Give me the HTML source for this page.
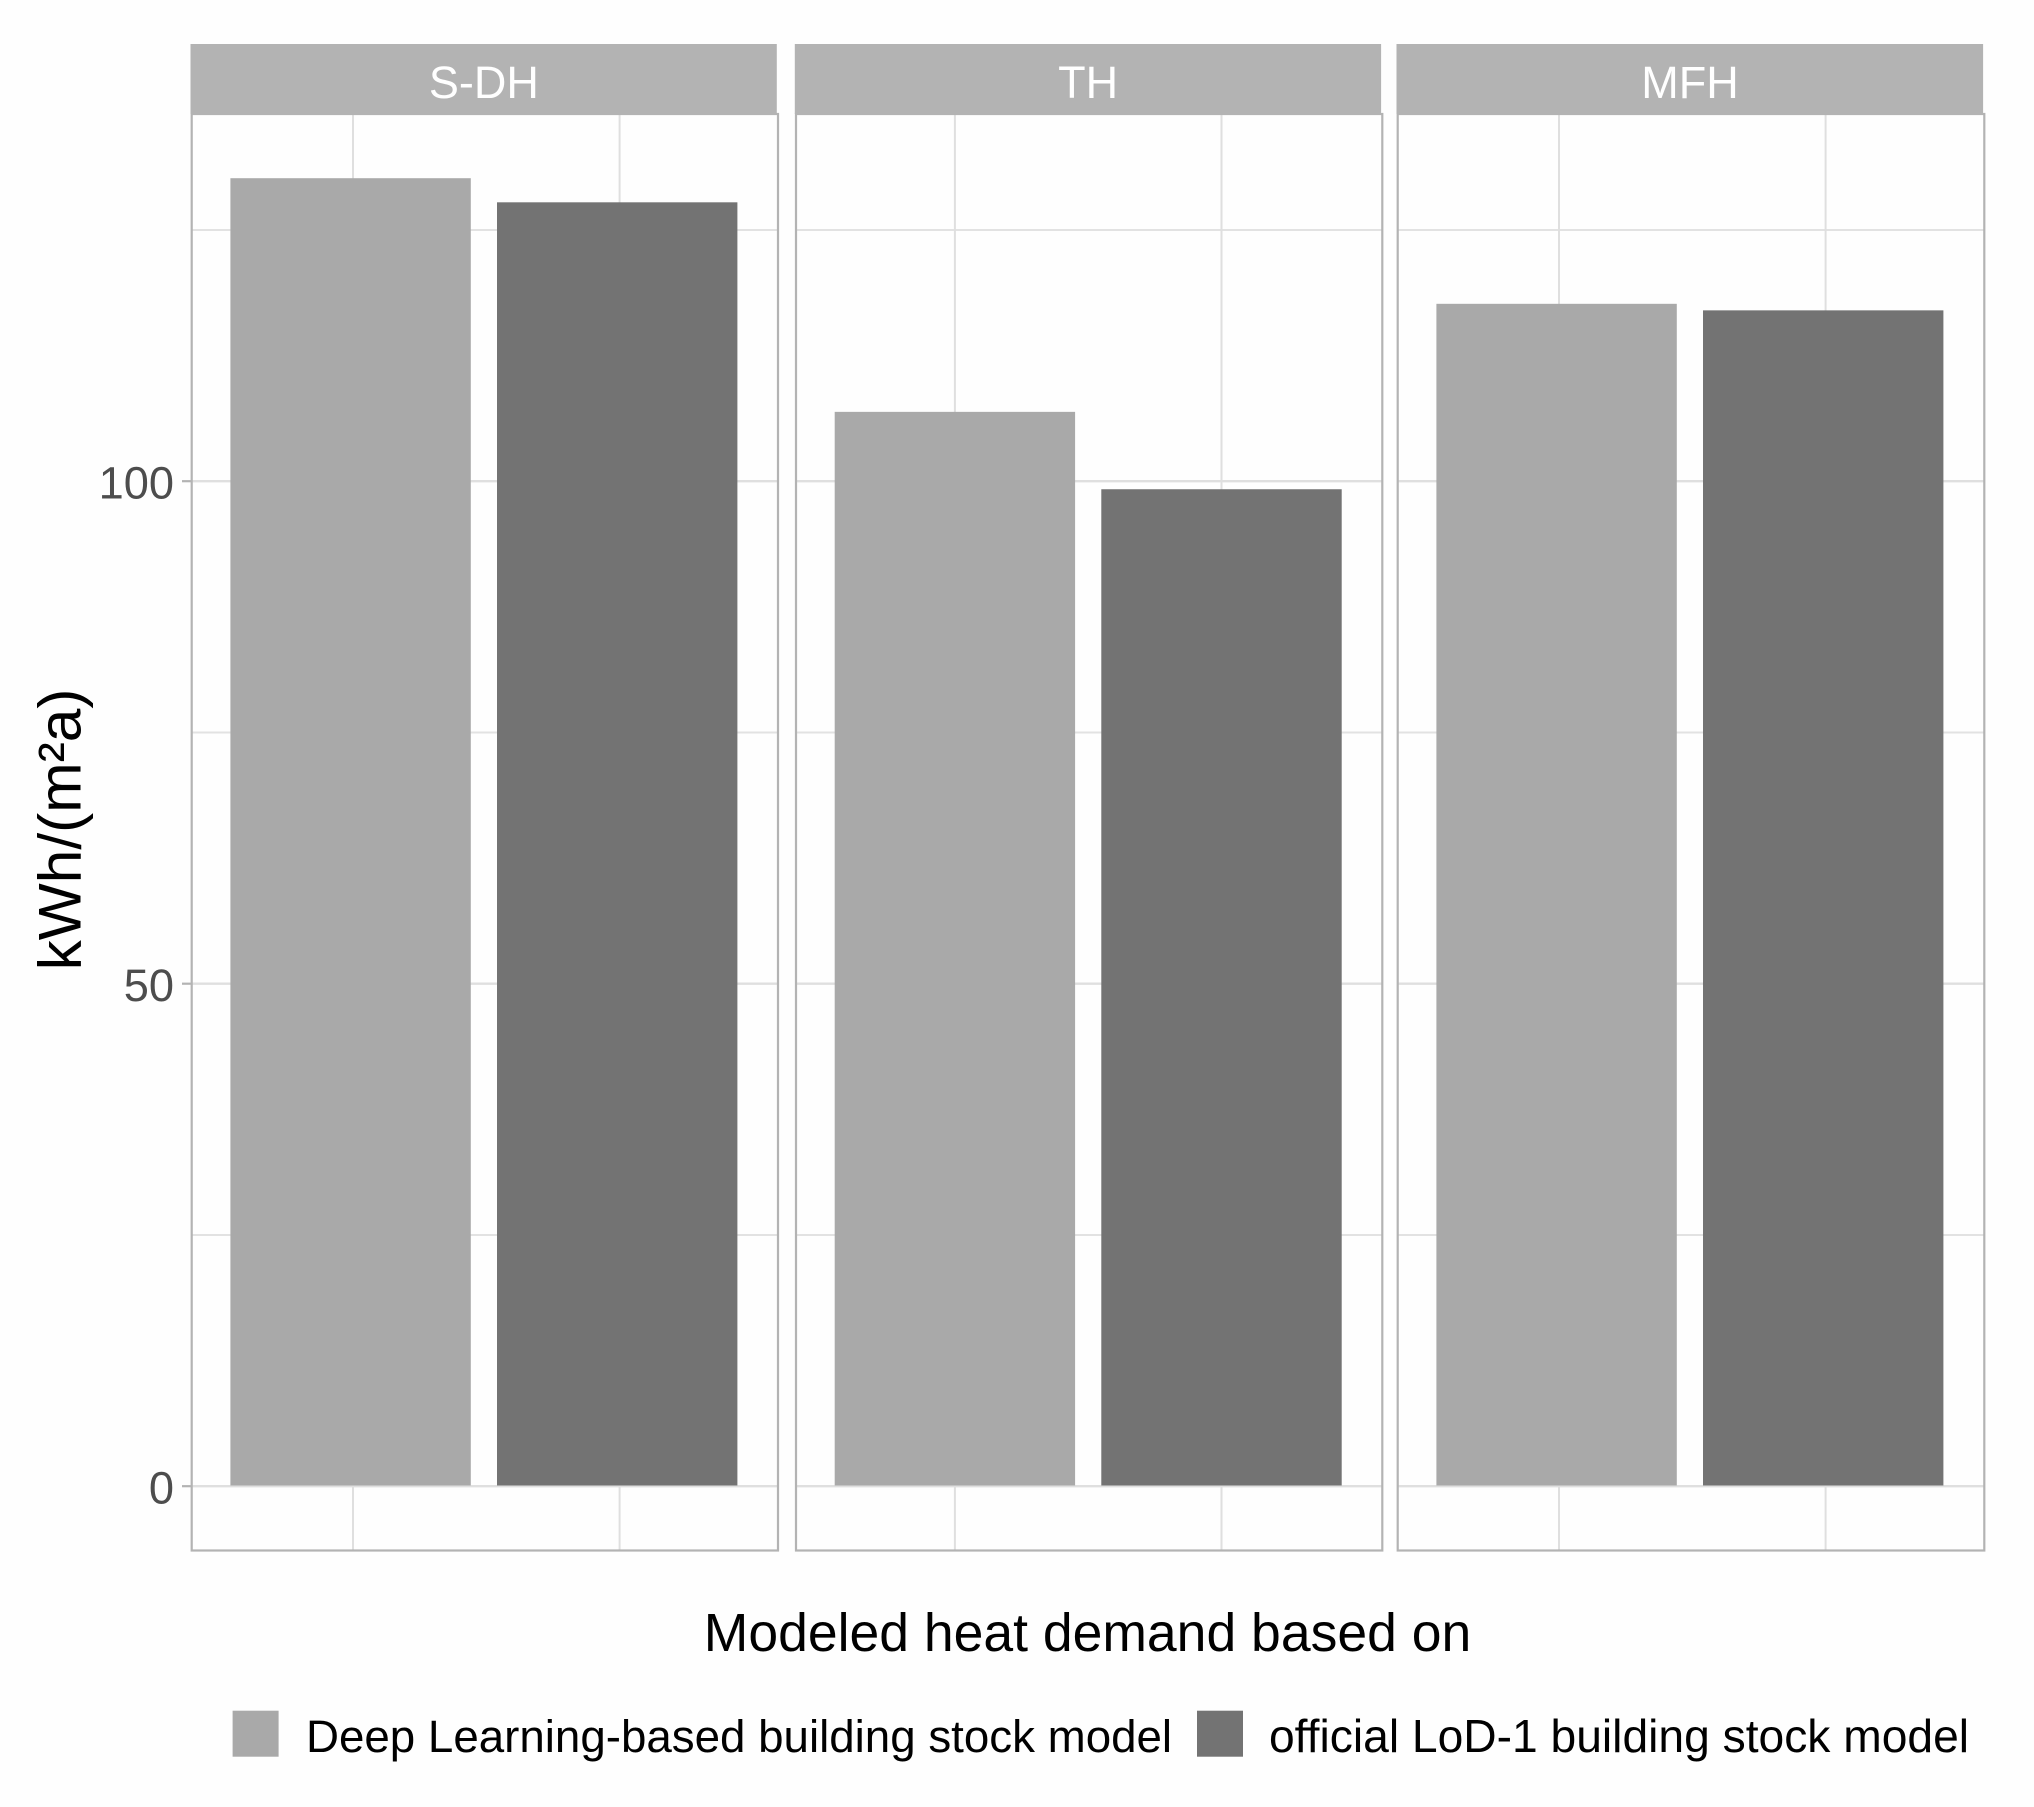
<!DOCTYPE html>
<html lang="en">
<head>
<meta charset="utf-8">
<title>Modeled heat demand by building type</title>
<style>
  html, body { margin: 0; padding: 0; background: #ffffff; }
  body { width: 2034px; height: 1807px; overflow: hidden; }
  svg { display: block; font-family: "Liberation Sans", Arial, sans-serif; }
</style>
</head>
<body>
<svg id="chart" xmlns="http://www.w3.org/2000/svg" width="2034" height="1807" viewBox="0 0 2034 1807">
  <rect x="0" y="0" width="2034" height="1807" fill="#fefefe"/>
  <g id="panels"></g>
  <g id="y-axis"></g>
  <text transform="translate(80.5 829.5) rotate(-90)" text-anchor="middle" font-size="60.4" fill="#000000">kWh/(m²a)</text>
  <text x="1087.5" y="1651" text-anchor="middle" font-size="53.5" fill="#000000">Modeled heat demand based on</text>
  <g>
    <g>
      <rect x="232.6" y="1710.7" width="46" height="46" fill="#a9a9a9"/>
      <text x="306" y="1752" font-size="45.7" fill="#000000">Deep Learning-based building stock model</text>
    </g>
    <g>
      <rect x="1197" y="1710.7" width="46" height="46" fill="#737373"/>
      <text x="1269" y="1752" font-size="46.2" fill="#000000">official LoD-1 building stock model</text>
    </g>
  </g>
</svg>
<script>
// ---- chart data ----
const facets = ["S-DH", "TH", "MFH"];
const seriesNames = ["Deep Learning-based building stock model", "official LoD-1 building stock model"];
const deepLearningValues = [130.15, 106.9, 117.65];
const officialValues = [127.75, 99.2, 117.0];
const majorTickValues = [0, 50, 100];
const majorTickLabels = ["0", "50", "100"];
const minorGridValues = [25, 75, 125];

// ---- layout constants ----
const SVGNS = "http://www.w3.org/2000/svg";
const panelLeft = function (i) { return i === 0 ? 191.7 : i === 1 ? 796 : 1397.7; };
const panelRight = function (i) { return i === 0 ? 778 : i === 1 ? 1382.3 : 1984.3; };
const panelTop = 114;
const panelBottom = 1550.5;
const stripTop = 44;
const y0 = 1486.2;
const yUnit = 10.05;
const barWidth = 240.4;
const barStep = 266.6;
const firstBarOffset = 38.7;
const gridShift = function (i) { return i === 1 ? 0 : 2.4; };

// ---- scales ----
function yScale(v) { return y0 - v * yUnit; }
function xBarLeft(facetIndex, seriesIndex) {
  return panelLeft(facetIndex) + firstBarOffset + seriesIndex * barStep;
}

function make(tag, attrs, parent) {
  const el = document.createElementNS(SVGNS, tag);
  for (const k in attrs) el.setAttribute(k, attrs[k]);
  parent.appendChild(el);
  return el;
}

const panelsGroup = document.getElementById("panels");
const yAxisGroup = document.getElementById("y-axis");

facets.forEach(function (name, f) {
  const left = panelLeft(f);
  const right = panelRight(f);

  const g = make("g", {}, panelsGroup);
  
  

  minorGridValues.forEach(function (v) {
    const line = make("line", { x1: left, x2: right, y1: yScale(v), y2: yScale(v), stroke: "#e2e2e2", "stroke-width": 2 }, g);
    
    
  });
  majorTickValues.forEach(function (v) {
    const line = make("line", { x1: left, x2: right, y1: yScale(v), y2: yScale(v), stroke: "#dfdfdf", "stroke-width": 2.4 }, g);
    
    
  });
  seriesNames.forEach(function (s, si) {
    const x = xBarLeft(f, si) + barWidth / 2 + gridShift(f);
    const line = make("line", { x1: x, x2: x, y1: panelTop, y2: panelBottom, stroke: "#dfdfdf", "stroke-width": 2 }, g);
    
    
  });

  [deepLearningValues, officialValues].forEach(function (values, si) {
    const top = yScale(values[f]);
    const bar = make("rect", {
      x: xBarLeft(f, si), y: top, width: barWidth, height: y0 - 0.7 - top,
      fill: si === 0 ? "#a9a9a9" : "#737373"
    }, g);
    
    
  });

  const frame = make("rect", { x: left, y: panelTop, width: right - left, height: panelBottom - panelTop, fill: "none", stroke: "#b3b3b3", "stroke-width": 2.2 }, g);
  
  

  const strip = make("rect", { x: left - 1.2, y: stripTop, width: right - left, height: panelTop - stripTop, fill: "#b3b3b3" }, g);
  
  

  const label = make("text", { x: (left + right) / 2 - 1, y: 98, "text-anchor": "middle", "font-size": 45, fill: "#ffffff" }, g);
  label.textContent = name;
  
  
});

majorTickValues.forEach(function (v, i) {
  const y = yScale(v);
  const tick = make("line", { x1: 182, x2: 191, y1: y, y2: y, stroke: "#b3b3b3", "stroke-width": 2.2 }, yAxisGroup);
  
  
  const label = make("text", { x: 174, y: y + 17.5, "text-anchor": "end", "font-size": 45.2, fill: "#4d4d4d" }, yAxisGroup);
  label.textContent = majorTickLabels[i];
  
  
});
</script>
</body>
</html>
